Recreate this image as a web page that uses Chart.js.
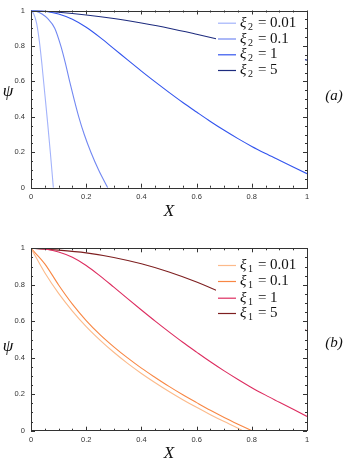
<!DOCTYPE html>
<html><head><meta charset="utf-8">
<script src="https://cdn.jsdelivr.net/npm/chart.js@4.4.1/dist/chart.umd.min.js"></script>
<style>
html,body{margin:0;padding:0;background:#fff;width:345px;height:460px;overflow:hidden}
.wrap{position:absolute;left:0;width:345px;height:230px}
canvas{display:block}
.lbl{position:absolute;font-family:"Liberation Serif","DejaVu Serif",serif;font-style:italic;color:#111;line-height:1;white-space:nowrap;transform:translate(-50%,-50%)}
</style></head><body>
<div class="wrap" style="top:0"><canvas id="ca" width="345" height="230"></canvas></div>
<div class="wrap" style="top:230px"><canvas id="cb" width="345" height="230"></canvas></div>
<div class="lbl" style="left:169px;top:210px;font-size:17px">X</div>
<div class="lbl" style="left:8px;top:90px;font-size:17px">ψ</div>
<div class="lbl" style="left:334px;top:95px;font-size:15px">(a)</div>
<div class="lbl" style="left:169px;top:452px;font-size:17px">X</div>
<div class="lbl" style="left:8px;top:345px;font-size:17px">ψ</div>
<div class="lbl" style="left:334px;top:342px;font-size:15px">(b)</div>
<script>
// ---- data ----
const tickValues = [0, 0.2, 0.4, 0.6, 0.8, 1];
const tickLabels = ["0", "0.2", "0.4", "0.6", "0.8", "1"];
const seriesValues = ["0.01", "0.1", "1", "5"];

// Panel (a): xi_2
const xA1 = [0, 0.01, 0.02, 0.03, 0.04, 0.05, 0.06, 0.07, 0.081];
const yA1 = [1, 0.98, 0.93, 0.83, 0.69, 0.53, 0.37, 0.2, 0];
const xA2 = [0, 0.02, 0.04, 0.06, 0.086, 0.108, 0.125, 0.14, 0.156, 0.173, 0.193, 0.217, 0.245, 0.278];
const yA2 = [1, 0.995, 0.98, 0.955, 0.9, 0.8, 0.7, 0.6, 0.5, 0.4, 0.3, 0.2, 0.1, 0];
const xA3 = [0, 0.05, 0.1, 0.15, 0.2, 0.25, 0.3, 0.35, 0.4, 0.45, 0.5, 0.55, 0.6, 0.65, 0.7, 0.75, 0.8, 0.85, 0.9, 0.95, 1];
const yA3 = [1, 0.996, 0.98, 0.95, 0.905, 0.848, 0.785, 0.721, 0.658, 0.597, 0.538, 0.481, 0.427, 0.374, 0.324, 0.277, 0.233, 0.193, 0.155, 0.117, 0.079];
const xA4 = [0, 0.1, 0.2, 0.3, 0.4, 0.5, 0.6, 0.7, 0.8, 0.9, 1];
const yA4 = [1, 0.99, 0.975, 0.955, 0.929, 0.9, 0.866, 0.83, 0.794, 0.757, 0.72];

// Panel (b): xi_1
const xB1 = [0, 0.05, 0.1, 0.15, 0.2, 0.25, 0.3, 0.35, 0.4, 0.45, 0.5, 0.55, 0.6, 0.65, 0.7, 0.75, 0.766];
const yB1 = [1, 0.866, 0.753, 0.656, 0.571, 0.497, 0.43, 0.369, 0.314, 0.263, 0.215, 0.17, 0.128, 0.088, 0.05, 0.014, 0];
const xB2 = [0, 0.05, 0.1, 0.15, 0.2, 0.25, 0.3, 0.35, 0.4, 0.45, 0.5, 0.55, 0.6, 0.65, 0.7, 0.75, 0.8];
const yB2 = [1, 0.915, 0.799, 0.694, 0.604, 0.527, 0.46, 0.399, 0.343, 0.292, 0.243, 0.197, 0.154, 0.112, 0.073, 0.036, 0];
const xB3 = [0, 0.05, 0.1, 0.15, 0.2, 0.25, 0.3, 0.35, 0.4, 0.45, 0.5, 0.55, 0.6, 0.65, 0.7, 0.75, 0.8, 0.85, 0.9, 0.95, 1];
const yB3 = [1, 0.996, 0.98, 0.951, 0.906, 0.849, 0.787, 0.724, 0.662, 0.601, 0.542, 0.485, 0.431, 0.378, 0.328, 0.281, 0.236, 0.195, 0.156, 0.117, 0.078];
const xB4 = [0, 0.1, 0.2, 0.3, 0.4, 0.5, 0.6, 0.7, 0.8, 0.9, 1];
const yB4 = [1, 0.99, 0.975, 0.95, 0.915, 0.87, 0.815, 0.75, 0.68, 0.613, 0.548];

const coloursA = ["#a3b3fb", "#7288f2", "#3355ee", "#1d2b7e"];
const coloursB = ["#fcba8a", "#f88744", "#dd2d60", "#7e1f20"];

const pts = (xs, ys) => xs.map((x, i) => ({x: x, y: ys[i]}));

const frameTicks = {
  id: 'frameTicks',
  afterDatasetsDraw(chart, args, opts) {
    const ctx = chart.ctx, a = chart.chartArea;
    const xs = chart.scales.x, ys = chart.scales.y;
    const L = opts;
    ctx.save();
    ctx.fillStyle = '#fff';
    ctx.fillRect(L.box[0], L.box[1], L.box[2], L.box[3]);
    chart.data.datasets.forEach((ds, i) => {
      const ry = L.rows[i];
      ctx.strokeStyle = ds.borderColor; ctx.lineWidth = 1.2;
      ctx.beginPath(); ctx.moveTo(L.lineX[0], ry + 0.5); ctx.lineTo(L.lineX[1], ry + 0.5); ctx.stroke();
      ctx.fillStyle = '#111';
      ctx.textBaseline = 'alphabetic';
      ctx.font = 'italic 15px "Liberation Serif", serif';
      ctx.fillText('ξ', L.textX, ry + 4);
      ctx.font = '10px "Liberation Serif", serif';
      ctx.fillText(L.sub, L.textX + 8, ry + 7);
      ctx.font = '15px "Liberation Serif", serif';
      ctx.fillText('=', L.textX + 18, ry + 4);
      ctx.fillText(seriesValues[i], L.textX + 30, ry + 4);
    });
    ctx.strokeStyle = '#333'; ctx.lineWidth = 1;
    ctx.strokeRect(Math.round(a.left) + 0.5, Math.round(a.top) + 0.5, Math.round(a.right - a.left), Math.round(a.bottom - a.top));
    ctx.beginPath();
    for (let k = 0; k <= 20; k++) {
      const v = k * 0.05, major = (k % 4 === 0), len = major ? 4 : 2;
      const px = Math.round(xs.getPixelForValue(v)) + 0.5;
      ctx.moveTo(px, a.bottom); ctx.lineTo(px, a.bottom - len);
      ctx.moveTo(px, a.top); ctx.lineTo(px, a.top + len);
      const py = Math.round(ys.getPixelForValue(v)) + 0.5;
      ctx.moveTo(a.left, py); ctx.lineTo(a.left + len, py);
      ctx.moveTo(a.right, py); ctx.lineTo(a.right - len, py);
    }
    ctx.stroke();
    ctx.restore();
  }
};

function makeChart(id, xsList, ysList, colours, pad, xAxisH, legendOpts) {
  const datasets = xsList.map((xs, i) => ({
    label: seriesValues[i],
    data: pts(xs, ysList[i]),
    borderColor: colours[i],
    borderWidth: 1.1,
    pointRadius: 0,
    fill: false,
    showLine: true,
    cubicInterpolationMode: 'monotone'
  }));
  const labelFor = v => { const i = tickValues.findIndex(t => Math.abs(t - v) < 1e-6); return i >= 0 ? tickLabels[i] : ''; };
  return new Chart(document.getElementById(id), {
    type: 'scatter',
    data: {datasets},
    options: {
      responsive: false, animation: false, devicePixelRatio: 1,
      layout: {padding: {top: pad.top, right: 38, left: 0, bottom: 0}},
      plugins: {legend: {display: false}, tooltip: {enabled: false}, frameTicks: legendOpts},
      scales: {
        x: {
          type: 'linear', min: 0, max: 1,
          afterBuildTicks: s => { s.ticks = tickValues.map(v => ({value: v})); },
          afterFit: s => { s.height = xAxisH; },
          grid: {display: false, drawTicks: false}, border: {display: false},
          ticks: {callback: labelFor, padding: 5, color: '#333', font: {family: 'Liberation Sans', size: 7.5}, maxRotation: 0, autoSkip: false}
        },
        y: {
          type: 'linear', min: 0, max: 1,
          afterBuildTicks: s => { s.ticks = tickValues.map(v => ({value: v})); },
          afterFit: s => { s.width = 31; },
          grid: {display: false, drawTicks: false}, border: {display: false},
          ticks: {callback: labelFor, padding: 6, color: '#333', font: {family: 'Liberation Sans', size: 7.5}, autoSkip: false}
        }
      }
    },
    plugins: [frameTicks]
  });
}

makeChart('ca', [xA1, xA2, xA3, xA4], [yA1, yA2, yA3, yA4], coloursA, {top: 5}, 42.3,
  {box: [216, 12, 89, 68], rows: [22.7, 38.5, 54.3, 70], lineX: [218, 236], textX: 240, sub: '2'});
makeChart('cb', [xB1, xB2, xB3, xB4], [yB1, yB2, yB3, yB4], coloursB, {top: 18.3}, 29.3,
  {box: [216, 25, 89, 76], rows: [35, 51, 67.7, 83], lineX: [218, 236], textX: 240, sub: '1'});
</script>
</body></html>
